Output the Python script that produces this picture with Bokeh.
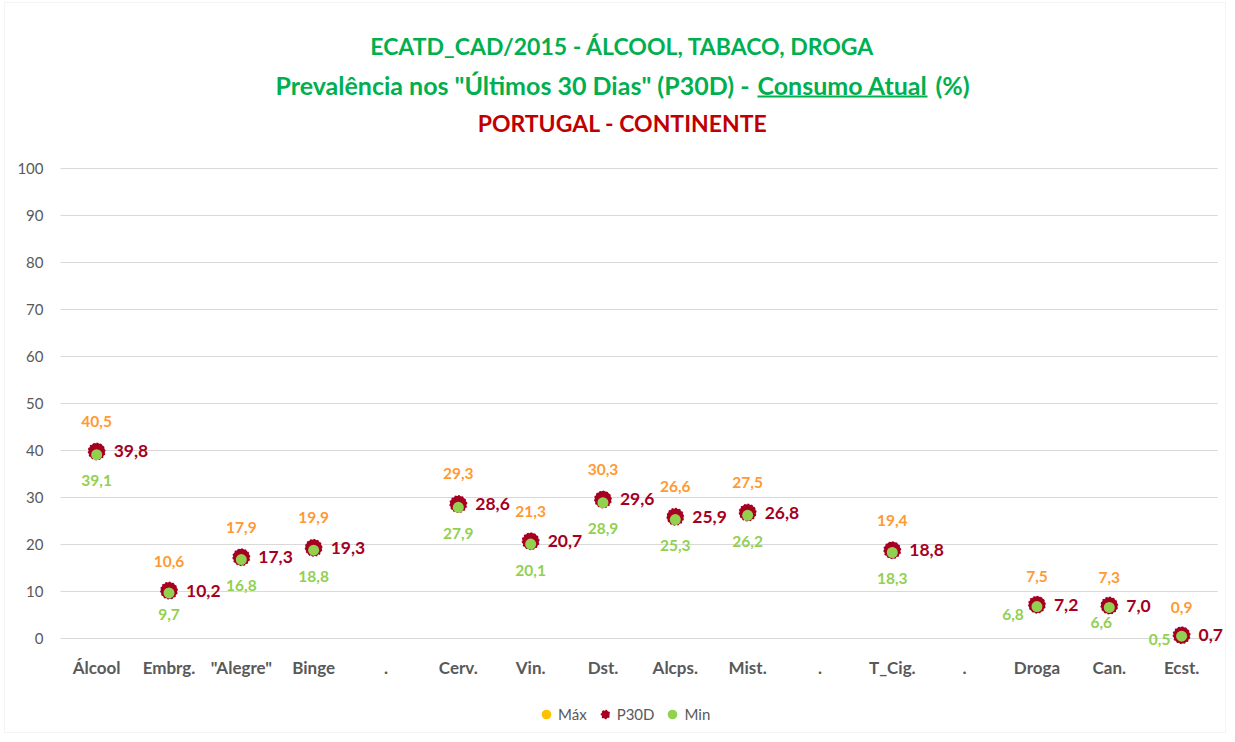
from bokeh.plotting import figure
from bokeh.models import (ColumnDataSource, Range1d, FixedTicker, Label, BoxAnnotation,
                          Legend, LegendItem)
from bokeh.core.properties import value
from bokeh.embed import file_html
from bokeh.resources import INLINE

# ---------------- data ----------------
categories = ["Álcool", "Embrg.", "\"Alegre\"", "Binge", ".", "Cerv.", "Vin.", "Dst.",
              "Alcps.", "Mist.", ".", "T_Cig.", ".", "Droga", "Can.", "Ecst."]
max_vals = [40.5, 10.6, 17.9, 19.9, None, 29.3, 21.3, 30.3, 26.6, 27.5, None, 19.4, None, 7.5, 7.3, 0.9]
p30d_vals = [39.8, 10.2, 17.3, 19.3, None, 28.6, 20.7, 29.6, 25.9, 26.8, None, 18.8, None, 7.2, 7.0, 0.7]
min_vals = [39.1, 9.7, 16.8, 18.8, None, 27.9, 20.1, 28.9, 25.3, 26.2, None, 18.3, None, 6.8, 6.6, 0.5]
y_ticks = [0, 10, 20, 30, 40, 50, 60, 70, 80, 90, 100]

# label placement styles for Min labels (pixel offsets)
min_dx = [0, 0, 0, 0, 0, 0, 0, 0, 0, 0, 0, 0, 0, -24, -8, -22]
min_dy = [26, 22, 26, 26, 0, 26, 26, 26, 26, 26, 0, 26, 0, 8, 15, 3]

FONT = "Lato"
GREEN_T = "#00B050"
RED_T = "#C00000"
C_MAX = "#FFC000"
C_MAX_LBL = "#FF9933"
C_P30 = "#A50021"
C_MIN = "#92D050"
GREY = "#595959"

# ---------------- layout (pixels) ----------------
W, H = 1227, 734
AX_LEFT = 60            # pixel x of category band start
PITCH = 72.33           # pixel width of one category
Y0_PX, Y100_PX = 638, 168  # pixel rows of 0 and 100
PX_PER_UNIT = (Y0_PX - Y100_PX) / 100.0

x_start = -0.5 - AX_LEFT / PITCH
x_end = x_start + W / PITCH
y_start = -(H - Y0_PX) / PX_PER_UNIT
y_end = y_start + H / PX_PER_UNIT


def fmt(v):
    return f"{v:.1f}".replace(".", ",")


def build(vals, dx=None, dy=None):
    xs, ys, ts, dxs, dys = [], [], [], [], []
    for i, v in enumerate(vals):
        if v is None:
            continue
        xs.append(i)
        ys.append(v)
        ts.append(fmt(v))
        if dx is not None:
            dxs.append(dx[i])
            dys.append(dy[i])
    d = dict(x=xs, y=ys, t=ts)
    if dx is not None:
        d["dx"] = dxs
        d["dy"] = dys
    return ColumnDataSource(d)


src_max = build(max_vals)
src_p30 = build(p30d_vals)
src_min = build(min_vals, min_dx, min_dy)

p = figure(width=W, height=H, output_backend="svg", toolbar_location=None,
           x_range=Range1d(x_start, x_end), y_range=Range1d(y_start, y_end),
           min_border=0, min_border_left=0, min_border_right=0,
           min_border_top=0, min_border_bottom=0)
p.outline_line_color = None
p.background_fill_color = "white"
p.border_fill_color = "white"

# axes (fixed inside the frame)
p.yaxis.fixed_location = -0.5
p.yaxis.ticker = FixedTicker(ticks=y_ticks)
p.yaxis.axis_line_color = None
p.yaxis.major_tick_line_color = None
p.yaxis.minor_tick_line_color = None
p.yaxis.major_label_text_font = FONT
p.yaxis.major_label_text_font_size = "15px"
p.yaxis.major_label_text_color = GREY
p.yaxis.major_label_standoff = 11

p.xaxis.fixed_location = 0
p.xaxis.ticker = FixedTicker(ticks=list(range(len(categories))))
p.xaxis.major_label_overrides = {i: c for i, c in enumerate(categories)}
p.xaxis.axis_line_color = None
p.xaxis.major_tick_line_color = None
p.xaxis.minor_tick_line_color = None
p.xaxis.major_label_text_font = FONT
p.xaxis.major_label_text_font_size = "17px"
p.xaxis.major_label_text_font_style = "bold"
p.xaxis.major_label_text_color = GREY
p.xaxis.major_label_standoff = 12

p.xgrid.grid_line_color = None
p.ygrid.grid_line_color = None

# horizontal gridlines over the category band
p.segment(x0=[-0.5] * len(y_ticks), x1=[len(categories) - 0.5] * len(y_ticks),
          y0=y_ticks, y1=y_ticks, line_color="#D9D9D9", line_width=1)

# markers
r_max = p.scatter("x", "y", source=src_max, size=10, fill_color=C_MAX, line_color=None)
r_p30 = p.scatter("x", "y", source=src_p30, size=18, fill_color=C_P30, line_color="white",
                  line_width=1.4, line_dash="2 2")
r_min = p.scatter("x", "y", source=src_min, size=11, fill_color=C_MIN, line_color=None)

# data labels
p.text("x", "y", text="t", source=src_max, text_font=value(FONT), text_font_size="15.5px",
       text_font_style="bold", text_color=C_MAX_LBL, text_align="center",
       text_baseline="middle", y_offset=-27)
p.text("x", "y", text="t", source=src_p30, text_font=value(FONT), text_font_size="17.5px",
       text_font_style="bold", text_color=C_P30, text_align="left",
       text_baseline="middle", x_offset=17)
p.text("x", "y", text="t", source=src_min, text_font=value(FONT), text_font_size="15.5px",
       text_font_style="bold", text_color=C_MIN, text_align="center",
       text_baseline="middle", x_offset="dx", y_offset="dy")


# titles (screen units relative to frame bottom-left)
def title_label(text, x, y_px, color, align="center", size="23px"):
    p.add_layout(Label(x=x, y=H - y_px, x_units="screen", y_units="screen", text=text,
                       text_font=FONT, text_font_size=size, text_font_style="bold",
                       text_color=color, text_align=align, text_baseline="middle"))


title_label("ECATD_CAD/2015 - ÁLCOOL, TABACO, DROGA", 622, 45, GREEN_T)
title_label("Prevalência nos \"Últimos 30 Dias\" (P30D) -", 749, 84, GREEN_T, "right", "25px")
title_label("Consumo Atual", 842, 84, GREEN_T, "center", "25px")
title_label("(%)", 935, 84, GREEN_T, "left", "25px")
title_label("PORTUGAL - CONTINENTE", 622, 122, RED_T)
p.add_layout(BoxAnnotation(left=757, right=927, bottom=H - 97, top=H - 95,
                           left_units="screen", right_units="screen",
                           bottom_units="screen", top_units="screen",
                           fill_color=GREEN_T, fill_alpha=1, line_color=None))

# outer chart border
p.add_layout(BoxAnnotation(left=4, right=W - 2, bottom=2, top=H - 2,
                           left_units="screen", right_units="screen",
                           bottom_units="screen", top_units="screen",
                           fill_alpha=0, line_color="#D9D9D9", line_width=1))

# legend
legend = Legend(items=[LegendItem(label="Máx", renderers=[r_max]),
                       LegendItem(label="P30D", renderers=[r_p30]),
                       LegendItem(label="Min", renderers=[r_min])],
                orientation="horizontal", location=(534, H - 727),
                label_text_font=FONT, label_text_font_size="15px", label_text_color=GREY,
                glyph_width=24, glyph_height=26, label_standoff=0, spacing=6,
                padding=0, margin=0, border_line_color=None, background_fill_alpha=0)
p.add_layout(legend, "center")

open("out.html", "w").write(file_html(p, INLINE))
